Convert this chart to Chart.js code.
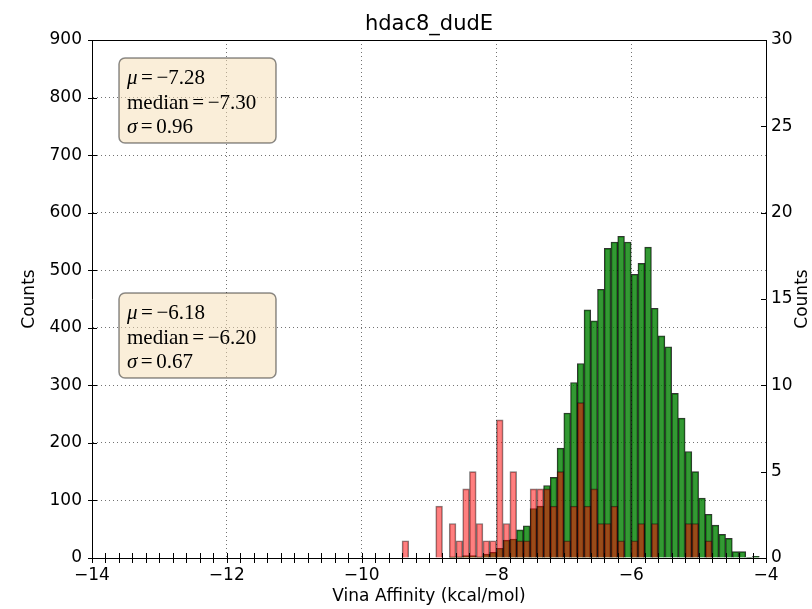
<!DOCTYPE html>
<html>
<head>
<meta charset="utf-8">
<script src="https://cdn.jsdelivr.net/npm/chart.js@4/dist/chart.umd.min.js"></script>
<style>
  html, body { margin: 0; padding: 0; background: #fff; }
  canvas { display: block; }
</style>
</head>
<body>
<canvas id="histChart" width="812" height="609"></canvas>
<script>
// hdac8_dudE - Vina affinity histograms (bins of 0.1 kcal/mol)

const binStarts = [
    -9.4, -9.3, -9.2, -9.1, -9.0, -8.9, -8.8, -8.7, -8.6, -8.5,
    -8.4, -8.3, -8.2, -8.1, -8.0, -7.9, -7.8, -7.7, -7.6, -7.5,
    -7.4, -7.3, -7.2, -7.1, -7.0, -6.9, -6.8, -6.7, -6.6, -6.5,
    -6.4, -6.3, -6.2, -6.1, -6.0, -5.9, -5.8, -5.7, -5.6, -5.5,
    -5.4, -5.3, -5.2, -5.1, -5.0, -4.9, -4.8, -4.7, -4.6, -4.5,
    -4.4, -4.3, -4.2,
];

// decoys, left axis
const decoyCounts = [
    0, 0, 0, 0, 0, 0, 0, 2, 2, 4,
    4, 2, 7, 10, 17, 31, 33, 49, 56, 86,
    90, 126, 140, 191, 252, 305, 338, 431, 412, 467,
    538, 549, 559, 549, 493, 512, 540, 434, 386, 367,
    286, 243, 185, 150, 104, 76, 57, 41, 34, 11,
    11, 1, 3,
];

// actives, right axis
const activeCounts = [
    1, 0, 0, 0, 0, 3, 0, 2, 1, 4,
    5, 2, 1, 1, 8, 2, 5, 1, 1, 4,
    4, 4, 3, 5, 1, 3, 9, 3, 4, 2,
    2, 3, 1, 0, 1, 2, 0, 2, 0, 0,
    0, 0, 2, 2, 0, 1, 0, 0, 0, 0,
    0, 0, 0,
];

const statNames = ['μ', 'median', 'σ'];
const activeStats = ['−7.28', '−7.30', '0.96'];
const decoyStats = ['−6.18', '−6.20', '0.67'];

const xTickLabels = [-14, -12, -10, -8, -6, -4];

const toPoints = (counts) => counts.map((c, i) => ({ x: binStarts[i] + 0.05, y: c }));
const minus = (v) => String(v).replace('-', '\u2212');

const FONT = 'DejaVu Sans';
Chart.defaults.font.family = FONT;
Chart.defaults.color = '#000';

function statsBox(ctx, left, top, values) {
    ctx.save();
    ctx.beginPath();
    ctx.roundRect(left, top, 157, 85, 6);
    ctx.fillStyle = 'rgba(245, 222, 179, 0.5)';
    ctx.fill();
    ctx.lineWidth = 1.5;
    ctx.strokeStyle = 'rgba(0, 0, 0, 0.45)';
    ctx.stroke();
    ctx.fillStyle = '#000';
    ctx.textBaseline = 'alphabetic';
    statNames.forEach((name, i) => {
        let x = left + 8;
        const y = top + 26 + i * 24.6;
        ctx.font = (name === 'median' ? '' : 'italic ') + '21px "Liberation Serif"';
        ctx.fillText(name, x, y);
        x += ctx.measureText(name).width + 3.5;
        ctx.font = '21px "Liberation Serif"';
        ctx.fillText('=', x, y);
        x += ctx.measureText('=').width + 3.5;
        ctx.fillText(values[i], x, y);
    });
    ctx.restore();
}

const decorations = {
    id: 'decorations',
    afterDraw(chart) {
        const { ctx, chartArea: a, scales } = chart;
        ctx.save();
        ctx.strokeStyle = '#000';
        ctx.lineWidth = 1;
        ctx.beginPath();
        // top spine
        ctx.moveTo(a.left, a.top + 0.5);
        ctx.lineTo(a.right, a.top + 0.5);
        // x ticks crossing the bottom spine
        scales.x.ticks.forEach(t => {
            const px = Math.round(scales.x.getPixelForValue(t.value)) + 0.5;
            ctx.moveTo(px, a.bottom - 5);
            ctx.lineTo(px, a.bottom + 5);
        });
        scales.y.ticks.forEach(t => {
            const py = Math.round(scales.y.getPixelForValue(t.value)) + 0.5;
            ctx.moveTo(a.left - 4, py);
            ctx.lineTo(a.left + 5, py);
        });
        scales.y1.ticks.forEach(t => {
            const py = Math.round(scales.y1.getPixelForValue(t.value)) + 0.5;
            ctx.moveTo(a.right - 5, py);
            ctx.lineTo(a.right, py);
        });
        ctx.stroke();

        // right axis title, reading bottom to top
        ctx.translate(803, (a.top + a.bottom) / 2);
        ctx.rotate(-Math.PI / 2);
        ctx.font = '17px "' + FONT + '"';
        ctx.fillStyle = '#000';
        ctx.textAlign = 'center';
        ctx.textBaseline = 'middle';
        ctx.fillText('Counts', 0, 0);
        ctx.restore();

        statsBox(ctx, a.left + 27, a.top + 18, activeStats);
        statsBox(ctx, a.left + 27, a.top + 253, decoyStats);
    }
};

const histData = {
    datasets: [
        {
            label: 'actives',
            data: toPoints(activeCounts),
            yAxisID: 'y1',
            order: 1,
            backgroundColor: 'rgba(255, 0, 0, 0.5)',
            borderColor: 'rgba(0, 0, 0, 0.5)',
            borderWidth: 1,
        },
        {
            label: 'decoys',
            data: toPoints(decoyCounts),
            yAxisID: 'y',
            order: 2,
            backgroundColor: 'rgba(0, 128, 0, 0.8)',
            borderColor: 'rgba(0, 0, 0, 0.8)',
            borderWidth: 1,
        },
    ]
};

const dotted = 'rgba(0, 0, 0, 0.55)';

const histConfig = {
    type: 'bar',
    data: histData,
    options: {
        responsive: false,
        animation: false,
        devicePixelRatio: 1,
        layout: { padding: 0 },
        datasets: {
            bar: { grouped: false, barPercentage: 1, categoryPercentage: 1 }
        },
        plugins: {
            legend: { display: false },
            tooltip: { enabled: false },
            title: {
                display: true,
                text: 'hdac8_dudE',
                fullSize: false,
                font: { size: 21, weight: 'normal', lineHeight: 1 },
                padding: { top: 14, bottom: 5 },
                color: '#000',
            },
        },
        scales: {
            x: {
                type: 'linear',
                min: -14,
                max: -4,
                offset: false,
                afterFit: (s) => { s.height = 51; },
                ticks: {
                    stepSize: 0.2,
                    maxTicksLimit: 100,
                    autoSkip: false,
                    maxRotation: 0,
                    padding: 7,
                    font: { size: 17 },
                    callback: (v) => {
                        const r = Math.round(v * 10) / 10;
                        return xTickLabels.includes(r) ? minus(r) : '';
                    },
                },
                grid: {
                    offset: false,
                    drawTicks: false,
                    color: (c) => {
                        const r = Math.round(c.tick.value * 10) / 10;
                        return (xTickLabels.includes(r) && r > -14 && r < -4) ? dotted : 'rgba(0,0,0,0)';
                    },
                },
                border: { color: '#000', width: 1, dash: [1, 3] },
                title: {
                    display: true,
                    text: 'Vina Affinity (kcal/mol)',
                    font: { size: 17 },
                    padding: { top: 0, bottom: 2 },
                },
            },
            y: {
                position: 'left',
                min: 0,
                max: 900,
                afterFit: (s) => { s.width = 92; },
                ticks: { stepSize: 100, padding: 10, font: { size: 17 } },
                grid: { drawTicks: false, color: dotted },
                border: { color: '#000', width: 1, dash: [1, 3] },
                title: {
                    display: true,
                    text: 'Counts',
                    font: { size: 17 },
                    padding: { top: 19, bottom: 0 },
                },
            },
            y1: {
                position: 'right',
                min: 0,
                max: 30,
                afterFit: (s) => { s.width = 46; },
                ticks: { stepSize: 5, padding: 5, font: { size: 17 } },
                grid: { drawTicks: false, drawOnChartArea: false },
                border: { color: '#000', width: 1 },
            },
        },
    },
    plugins: [decorations],
};

const histChart = new Chart(
    document.getElementById('histChart'),
    histConfig
);
</script>
</body>
</html>
